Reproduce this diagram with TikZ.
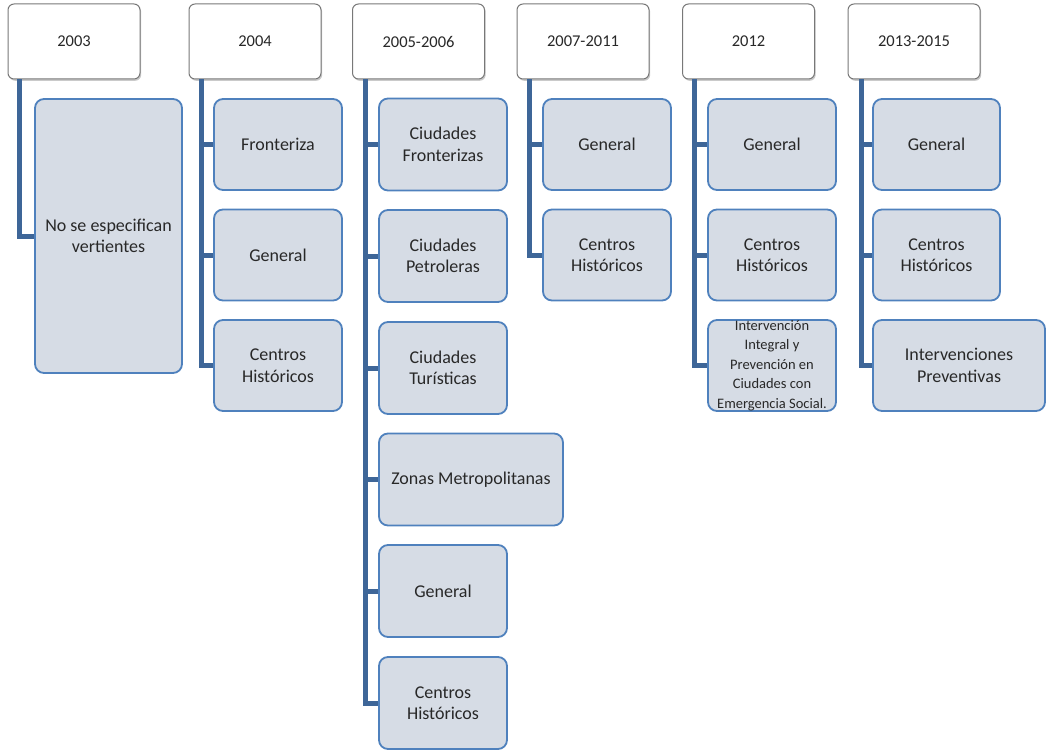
\documentclass[tikz,border=0pt]{standalone}
\usepackage{fontspec}
\setmainfont{Carlito}
\usetikzlibrary{shadows}
\definecolor{hdrline}{RGB}{120,120,120}
\definecolor{kidfill}{RGB}{214,220,229}
\definecolor{kidline}{RGB}{79,129,189}
\definecolor{connc}{RGB}{62,102,152}
\definecolor{txt}{RGB}{40,40,40}
\tikzset{
  hdr/.style={draw=hdrline, line width=1pt, fill=white, rounded corners=6pt,
    minimum width=132pt, minimum height=75pt, inner sep=2pt, text=txt,
    font=\fontsize{16.5}{19}\selectfont,
    drop shadow={shadow xshift=1.2pt, shadow yshift=-1.8pt, opacity=0.35, fill=black!60}},
  kid/.style={draw=kidline, line width=1.8pt, fill=kidfill, rounded corners=9pt,
    minimum width=128pt, minimum height=91pt, inner sep=2pt, align=center, text=txt,
    font=\fontsize{18}{21.5}\selectfont},
  conn/.style={draw=connc, line width=5pt},
}
\begin{document}
\begin{tikzpicture}[x=1pt,y=-1pt]
\useasboundingbox (0,0) rectangle (1046,754);
% headers
\node[hdr] (h1) at (74,41.5) {2003};
\node[hdr] (h2) at (255,41.5) {2004};
\node[hdr] (h3) at (418.5,41.5) {2005-2006};
\node[hdr] (h4) at (583,41.5) {2007-2011};
\node[hdr] (h5) at (748.5,41.5) {2012};
\node[hdr] (h6) at (914,41.5) {2013-2015};
% children
\node[kid, minimum width=147pt, minimum height=274pt] (a1) at (108.5,236) {No se especifican\\vertientes};
\node[kid] (b1) at (278,144.5) {Fronteriza};
\node[kid] (b2) at (278,255) {General};
\node[kid] (b3) at (278,365.5) {Centros\\Históricos};
\node[kid, minimum height=92pt] (c1) at (443,144.5) {Ciudades\\Fronterizas};
\node[kid, minimum height=92pt] (c2) at (443,256) {Ciudades\\Petroleras};
\node[kid, minimum height=92pt] (c3) at (443,368) {Ciudades\\Turísticas};
\node[kid, minimum height=92pt, minimum width=184pt] (c4) at (471,479.5) {Zonas Metropolitanas};
\node[kid, minimum height=92pt] (c5) at (443,591) {General};
\node[kid, minimum height=92pt] (c6) at (443,703) {Centros\\Históricos};
\node[kid] (d1) at (607,144.5) {General};
\node[kid] (d2) at (607,255) {Centros\\Históricos};
\node[kid] (e1) at (772,144.5) {General};
\node[kid] (e2) at (772,255) {Centros\\Históricos};
\node[kid, font=\fontsize{14.5}{19.5}\selectfont, inner sep=0pt] (e3) at (772,365.5) {Intervención\\Integral y\\Prevención en\\Ciudades con\\Emergencia Social.};
\node[kid, minimum width=127pt] (f1) at (936.5,144.5) {General};
\node[kid, minimum width=127pt] (f2) at (936.5,255) {Centros\\Históricos};
\node[kid, minimum width=172pt] (f3) at (959,365.5) {Intervenciones\\Preventivas};
% connector start points
\coordinate (s1) at ([xshift=12pt]h1.south west);
\coordinate (s2) at ([xshift=13pt]h2.south west);
\coordinate (s3) at ([xshift=13pt]h3.south west);
\coordinate (s4) at ([xshift=13pt]h4.south west);
\coordinate (s5) at ([xshift=12pt]h5.south west);
\coordinate (s6) at ([xshift=14pt]h6.south west);
\draw[conn] (s1) |- (a1.west);
\foreach \k in {b1,b2,b3} {\draw[conn] (s2) |- (\k.west);}
\foreach \k in {c1,c2,c3,c4,c5,c6} {\draw[conn] (s3) |- (\k.west);}
\foreach \k in {d1,d2} {\draw[conn] (s4) |- (\k.west);}
\foreach \k in {e1,e2,e3} {\draw[conn] (s5) |- (\k.west);}
\foreach \k in {f1,f2,f3} {\draw[conn] (s6) |- (\k.west);}
\end{tikzpicture}
\end{document}
